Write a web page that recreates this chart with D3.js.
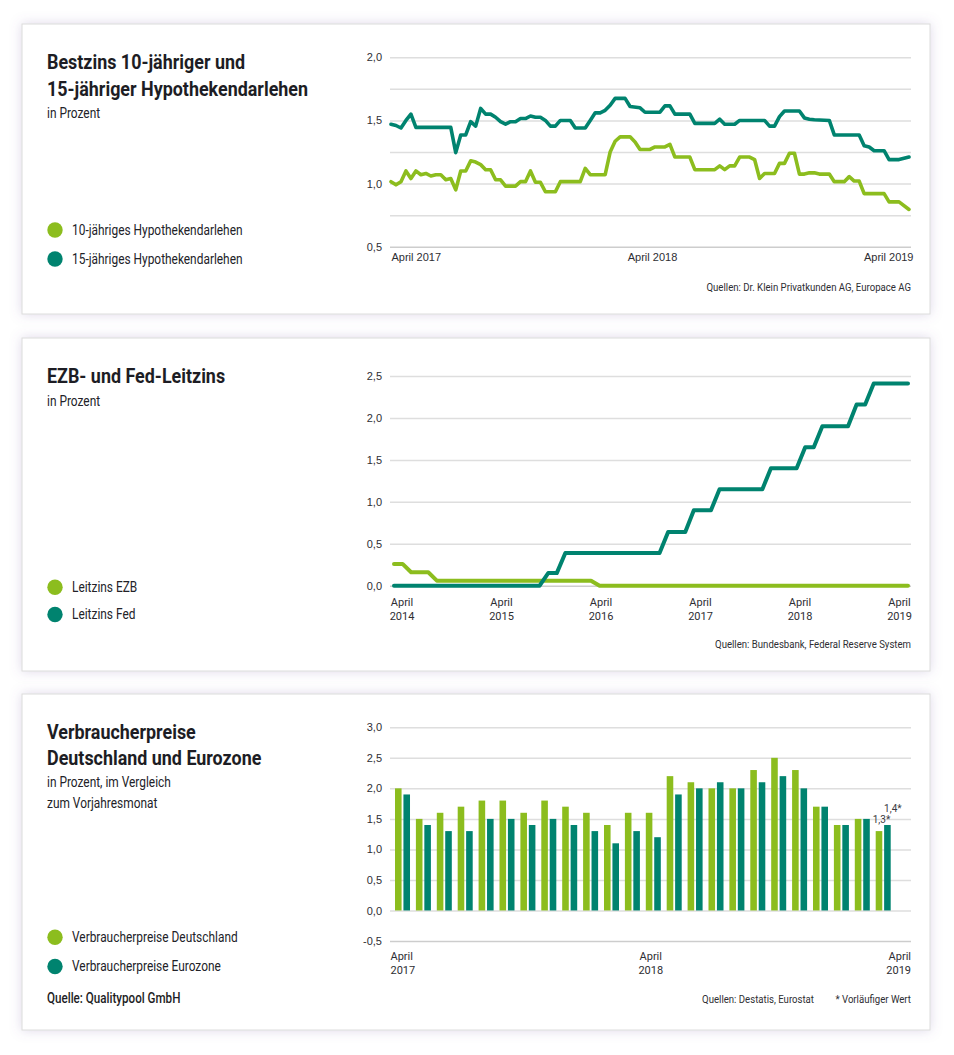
<!DOCTYPE html>
<html lang="de">
<head>
<meta charset="utf-8">
<script src="https://cdn.jsdelivr.net/npm/d3@7"></script>
<style>
  html, body { margin: 0; padding: 0; background: #fff; }
  body { width: 954px; height: 1055px; overflow: hidden; font-family: Roboto, "Noto Sans", sans-serif; }
  svg text { fill: #1e1e25; }
  .tick text { fill: #2e2e33; font-size: 11px; }
</style>
</head>
<body>
<svg id="chart" width="954" height="1055"></svg>
<script>
/* Drei Zinskarten: Hypothekenzinsen, Leitzinsen, Verbraucherpreise.
   Werte. */

const GREEN = "#8cbd1e";
const TEAL  = "#00836f";

// --- Karte 1: Bestzins (Kalenderwoche ab April 2017, Wert in %) ---
const bestzins10 = [[0,1.015],[1,0.99],[2,1.015],[3,1.10],[4,1.04],[5,1.10],[6,1.07],[7,1.08],[8,1.06],
  [9,1.07],[10,1.07],[11,1.03],[12,1.04],[13,0.95],[14,1.10],[15,1.10],[16,1.18],[17,1.17],[18,1.15],
  [19,1.11],[20,1.11],[21,1.03],[22,1.03],[23,0.98],[25,0.98],[26,1.015],[27,1.015],[28,1.10],[29,1.01],
  [30,1.01],[31,0.935],[33,0.935],[34,1.015],[38,1.015],[39,1.12],[40,1.07],[43,1.07],[44,1.25],
  [45,1.335],[46,1.37],[48,1.37],[49,1.33],[50,1.27],[52,1.27],[53,1.29],[55,1.29],[56,1.31],[57,1.21],
  [60,1.21],[61,1.11],[65,1.11],[66,1.14],[67,1.11],[68,1.14],[69,1.14],[70,1.21],[72,1.21],[73,1.19],
  [74,1.04],[75,1.08],[77,1.08],[78,1.16],[79,1.16],[80,1.24],[81,1.24],[82,1.075],[83,1.075],
  [84,1.085],[85,1.085],[86,1.075],[88,1.075],[89,1.015],[91,1.015],[92,1.055],[93,1.02],[94,1.02],
  [95,0.92],[99,0.92],[100,0.855],[102,0.855],[104,0.795]];
const bestzins15 = [[0,1.47],[1,1.46],[2,1.44],[3,1.50],[4,1.55],[5,1.445],[12,1.445],[13,1.245],
  [14,1.385],[15,1.385],[16,1.49],[17,1.455],[18,1.595],[19,1.55],[20,1.55],[21,1.525],[22,1.49],
  [23,1.47],[24,1.49],[25,1.49],[26,1.515],[27,1.515],[28,1.535],[29,1.525],[30,1.525],[31,1.50],
  [32,1.455],[33,1.455],[34,1.50],[36,1.50],[37,1.44],[39,1.44],[40,1.50],[41,1.56],[42,1.56],
  [43,1.58],[44,1.62],[45,1.675],[47,1.675],[48,1.61],[50,1.60],[51,1.565],[54,1.565],[55,1.615],
  [56,1.615],[57,1.55],[60,1.55],[61,1.477],[65,1.477],[66,1.51],[67,1.47],[69,1.47],[70,1.50],
  [75,1.50],[76,1.455],[77,1.455],[78,1.53],[79,1.575],[82,1.575],[83,1.52],[84,1.51],[85,1.505],
  [88,1.50],[89,1.385],[94,1.385],[95,1.30],[96,1.29],[97,1.26],[99,1.26],[100,1.19],[102,1.19],
  [104,1.21]];
const ticks1  = [0.5, 0.75, 1.0, 1.25, 1.5, 1.75, 2.0];
const labels1 = ["April 2017", "April 2018", "April 2019"];

// --- Karte 2: Leitzinsen, monatlich April 2014 bis April 2019 ---
const leitzinsEZB = [0.26,0.26,0.16,0.16,0.16,0.06,0.06,0.06,0.06,0.06,0.06,0.06,0.06,0.06,0.06,0.06,
  0.06,0.06,0.06,0.06,0.06,0.06,0.06,0.06,0,0,0,0,0,0,0,0,0,0,0,0,0,0,0,0,0,0,0,0,0,0,0,0,0,0,0,0,0,0,
  0,0,0,0,0,0,0];
const leitzinsFed = [0,0,0,0,0,0,0,0,0,0,0,0,0,0,0,0,0,0,0.15,0.15,0.39,0.39,0.39,0.39,0.39,0.39,0.39,
  0.39,0.39,0.39,0.39,0.39,0.64,0.64,0.64,0.90,0.90,0.90,1.15,1.15,1.15,1.15,1.15,1.15,1.40,1.40,1.40,
  1.40,1.65,1.65,1.90,1.90,1.90,1.90,2.16,2.16,2.41,2.41,2.41,2.41,2.41];
const ticks2  = [0, 0.5, 1.0, 1.5, 2.0, 2.5];
const jahre2  = ["2014", "2015", "2016", "2017", "2018", "2019"];

// --- Karte 3: Verbraucherpreise, April 2017 bis März 2019 ---
const monate3 = ["04/17","05/17","06/17","07/17","08/17","09/17","10/17","11/17","12/17","01/18",
  "02/18","03/18","04/18","05/18","06/18","07/18","08/18","09/18","10/18","11/18","12/18","01/19",
  "02/19","03/19"];
const vpiDeutschland = [2.0,1.5,1.6,1.7,1.8,1.8,1.6,1.8,1.7,1.6,1.4,1.6,1.6,2.2,2.1,2.0,2.0,2.3,2.5,2.3,
  1.7,1.4,1.5,1.3];
const vpiEurozone = [1.9,1.4,1.3,1.3,1.5,1.5,1.4,1.5,1.4,1.3,1.1,1.3,1.2,1.9,2.0,2.1,2.0,2.1,2.2,2.0,
  1.7,1.4,1.5,1.4];
const ticks3  = [-0.5, 0, 0.5, 1.0, 1.5, 2.0, 2.5, 3.0];
const jahre3  = ["2017", "2018", "2019"];

const fmt = d3.formatLocale({ decimal: ",", thousands: ".", grouping: [3], currency: ["", "€"], minus: "-" })
  .format(".1f");

const svg = d3.select("#chart");
const defs = svg.append("defs");
defs.append("filter").attr("id", "shadow")
  .attr("x", "-5%").attr("y", "-10%").attr("width", "110%").attr("height", "120%")
  .append("feDropShadow")
    .attr("dx", 0).attr("dy", 0).attr("stdDeviation", 6)
    .attr("flood-color", "#7d62a8").attr("flood-opacity", 0.25);

// Karten
[[24, 290], [338, 333], [694, 336]].forEach(([y, h]) => {
  svg.append("rect")
    .attr("x", 22).attr("y", y).attr("width", 908).attr("height", h)
    .attr("fill", "#fff").attr("stroke", "#dcdcdc").attr("stroke-width", 1)
    .attr("filter", "url(#shadow)");
});

// Roboto ist breiter als die Vorlagenschrift: schmaler setzen
function condense(sel, k) {
  sel.each(function () {
    const w = this.getComputedTextLength();
    d3.select(this).attr("textLength", w * k).attr("lengthAdjust", "spacingAndGlyphs");
  });
  return sel;
}

function text(x, y, str, size, weight, anchor, fill, k) {
  const t = svg.append("text")
    .attr("x", x).attr("y", y)
    .attr("font-size", size)
    .attr("font-weight", weight || 400)
    .attr("text-anchor", anchor || "start")
    .style("fill", fill || "#1e1e25")
    .text(str);
  if (k) condense(t, k);
  return t;
}

const title = (x, y, s) => text(x, y, s, 20, 700, "start", "#1d1d24", 0.895);
const sub   = (x, y, s) => text(x, y, s, 14, 400, "start", "#222228", 0.85);
const src   = (x, y, s) => text(x, y, s, 10, 400, "end", "#2e2e33", 0.96);

function legend(y, color, label) {
  svg.append("circle").attr("cx", 55).attr("cy", y).attr("r", 7.7).attr("fill", color);
  text(72, y + 4.8, label, 14, 400, "start", "#222228", 0.85);
}

// y-Achse als Gitter
function gridAxis(y, values, labelled, x0, x1) {
  const g = svg.append("g").attr("transform", `translate(${x0},0)`)
    .call(d3.axisLeft(y).tickValues(values).tickSize(-(x1 - x0)).tickPadding(8)
      .tickFormat(d => labelled.includes(d) ? fmt(d) : ""));
  g.select(".domain").remove();
  g.selectAll(".tick line").attr("stroke", "#dedede").attr("stroke-width", 1.5);
  g.selectAll(".tick").filter(d => d === values[0]).select("line").attr("stroke", "#cdcdcd");
  g.selectAll(".tick text").attr("font-family", "inherit");
  return g;
}

// zweizeilige Monatsbeschriftung
function twoLine(scale, years, y, anchors) {
  years.forEach((yr, i) => {
    const a = anchors ? anchors[i] : "middle";
    text(scale(yr), y, "April", 11, 400, a, "#2e2e33");
    text(scale(yr), y + 14, yr, 11, 400, a, "#2e2e33");
  });
}

const lineStyle = (p, color, w) => p.attr("fill", "none").attr("stroke", color)
  .attr("stroke-width", w).attr("stroke-linejoin", "round").attr("stroke-linecap", "round");

/* ---------- Karte 1 ---------- */
title(47, 69, "Bestzins 10-jähriger und");
title(47, 95.5, "15-jähriger Hypothekendarlehen");
sub(47, 118, "in Prozent");
legend(230, GREEN, "10-jähriges Hypothekendarlehen");
legend(259, TEAL, "15-jähriges Hypothekendarlehen");

const x1 = d3.scaleLinear().domain([0, 104]).range([391, 909]);
const y1 = d3.scaleLinear().domain([0.5, 2.0]).range([246.7, 57.3]);
gridAxis(y1, ticks1, [0.5, 1.0, 1.5, 2.0], 390, 911);

const line1 = d3.line().x(d => x1(d[0])).y(d => y1(d[1]));
lineStyle(svg.append("path").attr("d", line1(bestzins10)), GREEN, 3.6);
lineStyle(svg.append("path").attr("d", line1(bestzins15)), TEAL, 3.6);

const xl1 = d3.scalePoint().domain(labels1).range([391, 913]);
const ax1 = svg.append("g").attr("transform", "translate(0,252)")
  .call(d3.axisBottom(xl1).tickSize(0).tickPadding(0));
ax1.select(".domain").remove();
ax1.selectAll(".tick text").attr("dy", "0.8em").attr("font-family", "inherit")
  .attr("text-anchor", (d, i) => ["start", "middle", "end"][i]);

src(911, 291, "Quellen: Dr. Klein Privatkunden AG, Europace AG");

/* ---------- Karte 2 ---------- */
title(47, 382.5, "EZB- und Fed-Leitzins");
sub(47, 406, "in Prozent");
legend(587.3, GREEN, "Leitzins EZB");
legend(614.5, TEAL, "Leitzins Fed");

const x2 = d3.scaleLinear().domain([0, 60]).range([394, 908]);
const y2 = d3.scaleLinear().domain([0, 2.5]).range([585.7, 376]);
gridAxis(y2, ticks2, ticks2, 390, 911);

const line2 = d3.line().x((d, i) => x2(i)).y(d => y2(d));
lineStyle(svg.append("path").attr("d", line2(leitzinsEZB)), GREEN, 4);
lineStyle(svg.append("path").attr("d", line2(leitzinsFed)), TEAL, 4);

const xl2 = d3.scalePoint().domain(jahre2).range([402, 899.5]);
twoLine(xl2, jahre2, 606, null);

src(911, 648, "Quellen: Bundesbank, Federal Reserve System");

/* ---------- Karte 3 ---------- */
title(47, 739, "Verbraucherpreise");
title(47, 764.5, "Deutschland und Eurozone");
sub(47, 787, "in Prozent, im Vergleich");
sub(47, 807.5, "zum Vorjahresmonat");
legend(937.3, GREEN, "Verbraucherpreise Deutschland");
legend(966.5, TEAL, "Verbraucherpreise Eurozone");
text(47, 1003, "Quelle: Qualitypool GmbH", 14, 500, "start", "#1d1d24", 0.83);

const y3 = d3.scaleLinear().domain([-0.5, 3.0]).range([941, 727.3]);
gridAxis(y3, ticks3, ticks3, 390, 911);

const x3 = d3.scaleBand().domain(monate3).range([395, 890.7]).paddingInner(0.282).paddingOuter(0);
const xs3 = d3.scaleBand().domain(["de", "ez"]).range([0, x3.bandwidth()]).paddingInner(0.22);
const rows3 = monate3.map((m, i) => ({ m, de: vpiDeutschland[i], ez: vpiEurozone[i] }));

const groups = svg.append("g").selectAll("g").data(rows3).join("g")
  .attr("transform", d => `translate(${x3(d.m)},0)`);
groups.selectAll("rect").data(d => [["de", d.de], ["ez", d.ez]]).join("rect")
  .attr("x", d => xs3(d[0]))
  .attr("width", xs3.bandwidth())
  .attr("y", d => y3(d[1]))
  .attr("height", d => y3(0) - y3(d[1]))
  .attr("fill", d => d[0] === "de" ? GREEN : TEAL);

// vorläufige Werte
const last = monate3[monate3.length - 1];
text(x3(last) + xs3("de") - 3, y3(vpiDeutschland[23]) - 8, fmt(vpiDeutschland[23]) + "*", 10, 400, "start", "#3a3a40");
text(x3(last) + xs3("ez"), y3(vpiEurozone[23]) - 13, fmt(vpiEurozone[23]) + "*", 10, 400, "start", "#3a3a40");

const xl3 = d3.scalePoint().domain(jahre3).range([390.5, 911]);
twoLine(xl3, jahre3, 960, ["start", "middle", "end"]);

src(814, 1003, "Quellen: Destatis, Eurostat");
src(911, 1003, "* Vorläufiger Wert");
</script>
</body>
</html>
